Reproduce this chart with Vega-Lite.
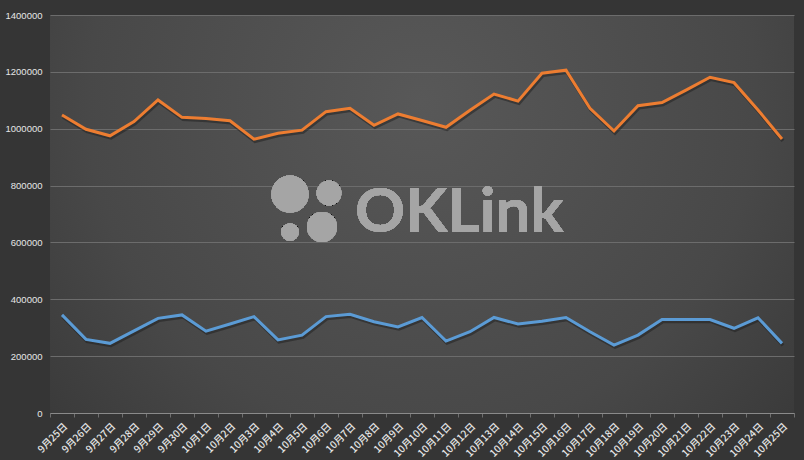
{
  "$schema": "https://vega.github.io/schema/vega-lite/v6.json",
  "width": 744,
  "height": 398,
  "autosize": {"type": "none"},
  "padding": {"left": 50, "top": 15, "right": 10, "bottom": 47},
  "background": "#353535",
  "config": {
    "view": {
      "stroke": null,
      "fill": {
        "gradient": "radial",
        "x1": 0.5, "y1": 0.35, "r1": 0,
        "x2": 0.5, "y2": 0.35, "r2": 0.75,
        "stops": [
          {"offset": 0, "color": "#585858"},
          {"offset": 0.6, "color": "#484848"},
          {"offset": 1, "color": "#343434"}
        ]
      }
    }
  },
  "datasets": {
    "series": [
      {"date": "9月25日", "series": "系列1", "value": 1048000}, {"date": "9月25日", "series": "系列2", "value": 345000},
      {"date": "9月26日", "series": "系列1", "value": 998000}, {"date": "9月26日", "series": "系列2", "value": 259000},
      {"date": "9月27日", "series": "系列1", "value": 975000}, {"date": "9月27日", "series": "系列2", "value": 245000},
      {"date": "9月28日", "series": "系列1", "value": 1025000}, {"date": "9月28日", "series": "系列2", "value": 289000},
      {"date": "9月29日", "series": "系列1", "value": 1101000}, {"date": "9月29日", "series": "系列2", "value": 333000},
      {"date": "9月30日", "series": "系列1", "value": 1040000}, {"date": "9月30日", "series": "系列2", "value": 345000},
      {"date": "10月1日", "series": "系列1", "value": 1036000}, {"date": "10月1日", "series": "系列2", "value": 288000},
      {"date": "10月2日", "series": "系列1", "value": 1028000}, {"date": "10月2日", "series": "系列2", "value": 313000},
      {"date": "10月3日", "series": "系列1", "value": 963000}, {"date": "10月3日", "series": "系列2", "value": 339000},
      {"date": "10月4日", "series": "系列1", "value": 984000}, {"date": "10月4日", "series": "系列2", "value": 257000},
      {"date": "10月5日", "series": "系列1", "value": 995000}, {"date": "10月5日", "series": "系列2", "value": 274000},
      {"date": "10月6日", "series": "系列1", "value": 1060000}, {"date": "10月6日", "series": "系列2", "value": 339000},
      {"date": "10月7日", "series": "系列1", "value": 1072000}, {"date": "10月7日", "series": "系列2", "value": 347000},
      {"date": "10月8日", "series": "系列1", "value": 1012000}, {"date": "10月8日", "series": "系列2", "value": 321000},
      {"date": "10月9日", "series": "系列1", "value": 1052000}, {"date": "10月9日", "series": "系列2", "value": 303000},
      {"date": "10月10日", "series": "系列1", "value": 1029000}, {"date": "10月10日", "series": "系列2", "value": 336000},
      {"date": "10月11日", "series": "系列1", "value": 1005000}, {"date": "10月11日", "series": "系列2", "value": 253000},
      {"date": "10月12日", "series": "系列1", "value": 1065000}, {"date": "10月12日", "series": "系列2", "value": 286000},
      {"date": "10月13日", "series": "系列1", "value": 1122000}, {"date": "10月13日", "series": "系列2", "value": 336000},
      {"date": "10月14日", "series": "系列1", "value": 1097000}, {"date": "10月14日", "series": "系列2", "value": 313000},
      {"date": "10月15日", "series": "系列1", "value": 1195000}, {"date": "10月15日", "series": "系列2", "value": 323000},
      {"date": "10月16日", "series": "系列1", "value": 1206000}, {"date": "10月16日", "series": "系列2", "value": 336000},
      {"date": "10月17日", "series": "系列1", "value": 1072000}, {"date": "10月17日", "series": "系列2", "value": 286000},
      {"date": "10月18日", "series": "系列1", "value": 992000}, {"date": "10月18日", "series": "系列2", "value": 239000},
      {"date": "10月19日", "series": "系列1", "value": 1081000}, {"date": "10月19日", "series": "系列2", "value": 274000},
      {"date": "10月20日", "series": "系列1", "value": 1092000}, {"date": "10月20日", "series": "系列2", "value": 329000},
      {"date": "10月21日", "series": "系列1", "value": 1136000}, {"date": "10月21日", "series": "系列2", "value": 329000},
      {"date": "10月22日", "series": "系列1", "value": 1181000}, {"date": "10月22日", "series": "系列2", "value": 329000},
      {"date": "10月23日", "series": "系列1", "value": 1162000}, {"date": "10月23日", "series": "系列2", "value": 298000},
      {"date": "10月24日", "series": "系列1", "value": 1066000}, {"date": "10月24日", "series": "系列2", "value": 335000},
      {"date": "10月25日", "series": "系列1", "value": 964000}, {"date": "10月25日", "series": "系列2", "value": 245000}
    ]
  },
  "data": {"name": "series"},
  "encoding": {
    "x": {
      "field": "date",
      "type": "nominal",
      "sort": null,
      "scale": {
        "type": "band", "paddingInner": 0, "paddingOuter": 0,
        "domain": ["9月25日","9月26日","9月27日","9月28日","9月29日","9月30日","10月1日","10月2日","10月3日","10月4日","10月5日","10月6日","10月7日","10月8日","10月9日","10月10日","10月11日","10月12日","10月13日","10月14日","10月15日","10月16日","10月17日","10月18日","10月19日","10月20日","10月21日","10月22日","10月23日","10月24日","10月25日"]
      },
      "axis": {
        "title": null,
        "labelAngle": -45,
        "labelFont": "Noto Sans CJK SC",
        "labelFontSize": 10,
        "labelFontWeight": 500,
        "labelColor": "#e6e6e6",
        "labelPadding": 4,
        "domainColor": "#8a8a8a",
        "tickColor": "#6e6e6e",
        "tickSize": 4,
        "tickBand": "extent",
        "grid": false
      }
    },
    "y": {
      "field": "value",
      "type": "quantitative",
      "scale": {"domain": [0, 1400000], "nice": false},
      "axis": {
        "title": null,
        "values": [0, 200000, 400000, 600000, 800000, 1000000, 1200000, 1400000],
        "format": "d",
        "labelFont": "Liberation Sans",
        "labelFontSize": 9.5,
        "labelColor": "#e6e6e6",
        "labelPadding": 8,
        "domain": false,
        "ticks": false,
        "grid": true,
        "gridColor": "#6c6c6c",
        "gridWidth": 1
      }
    }
  },
  "layer": [
    {
      "mark": {"type": "point", "filled": true, "color": "#a6a6a6", "opacity": 0.5, "size": 1385, "xOffset": 12},
      "encoding": {"x": {"datum": "10月4日"}, "y": {"datum": 770000}}
    },
    {
      "mark": {"type": "point", "filled": true, "color": "#a6a6a6", "opacity": 0.5, "size": 616, "xOffset": 3},
      "encoding": {"x": {"datum": "10月6日"}, "y": {"datum": 774000}}
    },
    {
      "mark": {"type": "point", "filled": true, "color": "#a6a6a6", "opacity": 0.5, "size": 314, "xOffset": 12},
      "encoding": {"x": {"datum": "10月4日"}, "y": {"datum": 636700}}
    },
    {
      "mark": {"type": "point", "filled": true, "color": "#a6a6a6", "opacity": 0.5, "size": 908, "xOffset": -4},
      "encoding": {"x": {"datum": "10月6日"}, "y": {"datum": 654300}}
    },
    {
      "mark": {"type": "text", "text": "OKLink", "font": "Lato", "fontWeight": "bold", "fontSize": 62, "align": "left", "baseline": "alphabetic", "dx": 5, "color": "#a6a6a6", "opacity": 0.5},
      "encoding": {"x": {"datum": "10月7日"}, "y": {"datum": 636700}}
    },
    {
      "mark": {"type": "line", "strokeWidth": 3.5, "color": "#1e1e1e", "opacity": 0.5, "xOffset": 1, "yOffset": 2},
      "encoding": {"detail": {"field": "series"}}
    },
    {
      "mark": {"type": "line", "strokeWidth": 3},
      "encoding": {
        "color": {
          "field": "series",
          "type": "nominal",
          "scale": {"domain": ["系列1", "系列2"], "range": ["#ED7D31", "#5B9BD5"]},
          "legend": null
        }
      }
    }
  ]
}
